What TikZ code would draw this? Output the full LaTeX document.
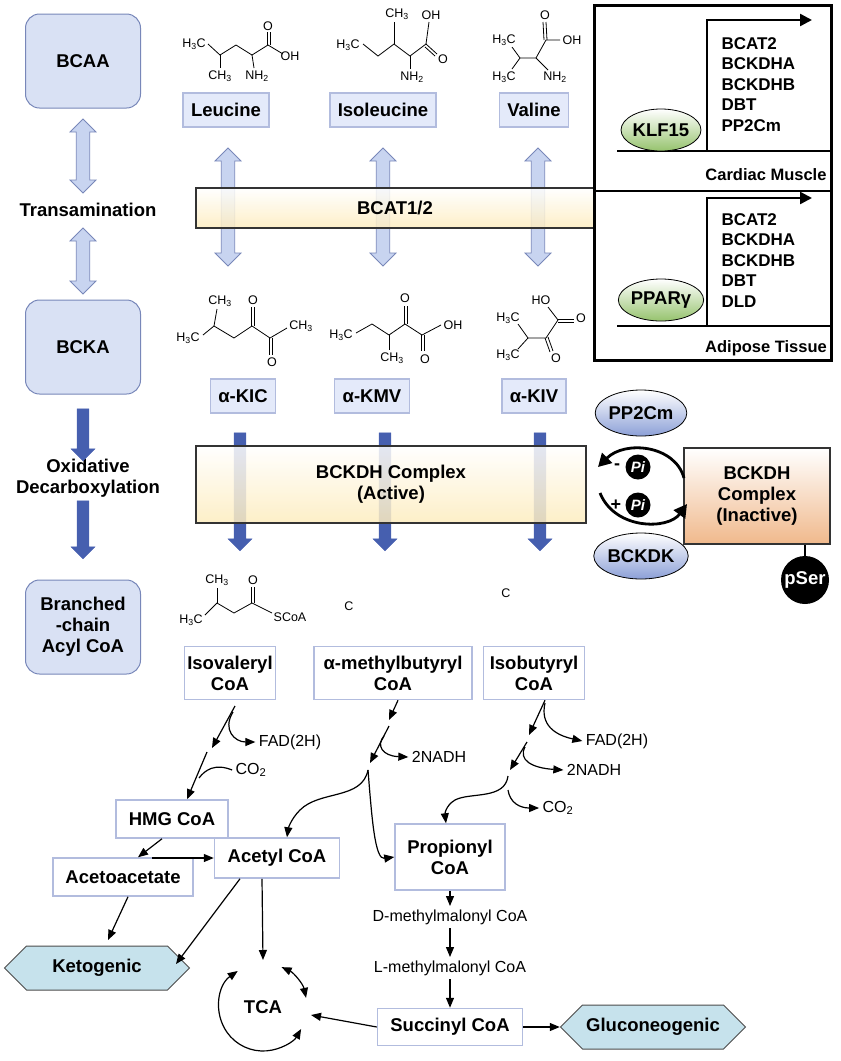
\documentclass[tikz,border=0pt]{standalone}
\usepackage{fontspec}
\setmainfont{Liberation Sans}
\usetikzlibrary{shapes.geometric,shapes.arrows,shapes.symbols,arrows.meta}
\definecolor{boxfill}{RGB}{228,234,250}
\definecolor{boxline}{RGB}{178,188,222}
\definecolor{lbfill}{RGB}{200,212,240}
\definecolor{lbline}{RGB}{120,135,185}
\definecolor{dblue}{RGB}{70,95,175}
\definecolor{cream}{RGB}{253,236,190}
\definecolor{peach}{RGB}{240,185,140}
\definecolor{hexfill}{RGB}{198,226,236}
\definecolor{ellblue}{RGB}{140,160,215}
\definecolor{ellgreen}{RGB}{150,195,110}
\begin{document}
\begin{tikzpicture}[x=1pt,y=-1pt,
  big/.style={font=\fontsize{18.5}{21}\selectfont\bfseries,align=center},
  side/.style={rounded corners=14pt,draw=lbline,fill=lbfill!70,line width=1pt,big,minimum width=115pt,minimum height=94pt},
  lab/.style={draw=boxline,fill=boxfill,line width=1.5pt,big,inner xsep=8pt,minimum height=34pt},
  plain/.style={draw=boxline,fill=white,line width=1.5pt,big,inner sep=3pt},
  chem/.style={font=\fontsize{12.5}{14}\selectfont,inner sep=0.5pt},
  bond/.style={line width=0.8pt},
  dbl/.style={double arrow,draw=lbline,fill=lbfill,line width=0.8pt,minimum height=#1,minimum width=26pt,double arrow head extend=6pt,shape border rotate=90,inner sep=6pt},
  dk/.style={single arrow,fill=dblue,draw=dblue,minimum height=#1,minimum width=24pt,single arrow head extend=6pt,shape border rotate=270,inner sep=5.5pt},
  bar/.style={draw=black!80,line width=2pt,top color=white,bottom color=cream,fill opacity=0.85,text opacity=1,big},
  pi/.style={circle,fill=black,text=white,font=\fontsize{15}{15}\selectfont\bfseries\itshape,inner sep=1pt,minimum size=25pt},
  ell/.style={ellipse,draw=black,line width=0.8pt,top color=white,bottom color=#1,big,inner sep=0pt,minimum width=62pt,minimum height=46pt},
  ar/.style={-{Triangle[length=10pt,width=8pt]},line width=1.2pt},
  sm/.style={font=\fontsize{16}{18}\selectfont},
  tis/.style={font=\fontsize{16.5}{18}\selectfont\bfseries},
  hexa/.style={signal,signal to=west and east,draw=black!70,fill=hexfill,line width=1pt,big,minimum height=44pt}
]
\useasboundingbox (0,0) rectangle (841,1061);
% left column
\node[side] (bcaa) at (83,61) {BCAA};
\node[side] (bcka) at (83,347) {BCKA};
\node[side] (bcac) at (83,627) {Branched\\-chain\\Acyl CoA};
\node[big] (trans) at (88,210) {Transamination};
\node[big] (oxd) at (88,478) {Oxidative\\Decarboxylation};
\node[dbl=74pt] (da1) at (83,156) {};
\node[dbl=66pt] (da2) at (83,261) {};
\node[dk=52pt] (ka1) at (83,432) {};
\node[dk=58pt] (ka2) at (83,527) {};
% amino acids
\node[lab] (leu) at (226,110) {Leucine};
\node[lab] (ile) at (383,110) {Isoleucine};
\node[lab] (val) at (534,110) {Valine};
\node[dbl=118pt] (v1) at (228,207) {};
\node[dbl=118pt] (v2) at (383,207) {};
\node[dbl=118pt] (v3) at (538,207) {};
\node[bar,minimum width=398pt,minimum height=40pt] (bcat) at (395,208) {BCAT1/2};
% leucine structure
\node[chem] (l1) at (194,44) {H\textsubscript{3}C};
\node[chem] (l2) at (220,76) {CH\textsubscript{3}};
\node[chem] (l3) at (257,76) {NH\textsubscript{2}};
\node[chem] (l4) at (268,26) {O};
\node[chem] (l5) at (290,56) {OH};
\draw[bond] (208,44)--(220,55)--(236,45)--(252,55)--(268,45)--(283,54);
\draw[bond] (220,55)--(220,68); \draw[bond] (252,55)--(254,68);
\draw[bond] (267,45)--(267,32); \draw[bond] (270,45)--(270,32);
% isoleucine
\node[chem] (i1) at (348,45) {H\textsubscript{3}C};
\node[chem] (i2) at (397,14) {CH\textsubscript{3}};
\node[chem] (i3) at (412,77) {NH\textsubscript{2}};
\node[chem] (i4) at (431,15) {OH};
\node[chem] (i5) at (443,59) {O};
\draw[bond] (363,44)--(378,56)--(394,44)--(410,56)--(426,44)--(437,54);
\draw[bond] (394,44)--(394,22); \draw[bond] (410,56)--(410,69);
\draw[bond] (426,44)--(429,22); \draw[bond] (425,47)--(435,56);
% valine
\node[chem] (va1) at (504,40) {H\textsubscript{3}C};
\node[chem] (va2) at (504,77) {H\textsubscript{3}C};
\node[chem] (va3) at (555,77) {NH\textsubscript{2}};
\node[chem] (va4) at (545,15) {O};
\node[chem] (va5) at (572,40) {OH};
\draw[bond] (512,47)--(520,58)--(512,69); \draw[bond] (520,58)--(536,58)--(546,40)--(560,40);
\draw[bond] (536,58)--(548,70);
\draw[bond] (544,40)--(543,22); \draw[bond] (547,40)--(546,22);
% keto acids
\node[lab] (kic) at (243,396) {α-KIC};
\node[lab] (kmv) at (372,396) {α-KMV};
\node[lab] (kiv) at (534,396) {α-KIV};
% KIC
\node[chem] (k1) at (188,338) {H\textsubscript{3}C};
\node[chem] (k2) at (220,301) {CH\textsubscript{3}};
\node[chem] (k3) at (253,300) {O};
\node[chem] (k4) at (272,362) {O};
\node[chem] (k5) at (301,326) {CH\textsubscript{3}};
\draw[bond] (203,335)--(214,326)--(234,338)--(252,326)--(270,338)--(287,328);
\draw[bond] (214,326)--(217,309);
\draw[bond] (251,326)--(251,307); \draw[bond] (254,326)--(254,307);
\draw[bond] (269,338)--(269,355); \draw[bond] (272,338)--(272,355);
% KMV
\node[chem] (m1) at (341,335) {H\textsubscript{3}C};
\node[chem] (m2) at (392,358) {CH\textsubscript{3}};
\node[chem] (m3) at (405,298) {O};
\node[chem] (m4) at (425,359) {O};
\node[chem] (m5) at (453,325) {OH};
\draw[bond] (356,333)--(372,324)--(389,335)--(405,324)--(422,335)--(441,325);
\draw[bond] (389,335)--(389,350);
\draw[bond] (404,324)--(404,306); \draw[bond] (407,324)--(407,306);
\draw[bond] (421,335)--(421,351); \draw[bond] (424,335)--(424,351);
% KIV
\node[chem] (n1) at (508,318) {H\textsubscript{3}C};
\node[chem] (n2) at (508,355) {H\textsubscript{3}C};
\node[chem] (n3) at (541,300) {HO};
\node[chem] (n4) at (581,318) {O};
\node[chem] (n5) at (556,358) {O};
\draw[bond] (518,324)--(528,338)--(518,349); \draw[bond] (528,338)--(546,338)--(558,320);
\draw[bond] (558,320)--(548,307);
\draw[bond] (558,319)--(574,319); \draw[bond] (558,322)--(574,322);
\draw[bond] (545,338)--(550,352); \draw[bond] (548,337)--(553,351);
% BCKDH active
\node[dk=118pt] (w1) at (240,489) {};
\node[dk=118pt] (w2) at (385,489) {};
\node[dk=118pt] (w3) at (540,489) {};
\node[bar,minimum width=390pt,minimum height=77pt] (bckdh) at (391,484) {BCKDH Complex\\(Active)};
\node[ell=ellblue] (pp) at (641,413) {PP2Cm};
\node[ell=ellblue] (bk) at (641,556) {BCKDK};
\node[draw=black!80,line width=2pt,top color=white,bottom color=peach,big,minimum width=146pt,minimum height=96pt] (inact) at (757,496) {BCKDH\\Complex\\(Inactive)};
\node[circle,fill=black,text=white,big,minimum size=48pt,inner sep=0pt] (pser) at (805,580) {pSer};
\draw[line width=2.5pt] (inact.south -| pser) -- (pser);
\node[pi] (pim) at (638,467) {Pi};
\node[pi] (pip) at (638,505) {Pi};
\node[font=\fontsize{18}{18}\selectfont\bfseries] (mn) at (617,467) {-};
\node[font=\fontsize{18}{18}\selectfont\bfseries] (pl) at (616,505) {+};
\draw[line width=2.8pt,-{Triangle[length=13pt,width=14pt]}] (684,478) .. controls (675,445) and (625,440) .. (598,467);
\draw[line width=2.8pt,-{Triangle[length=13pt,width=14pt]}] (600,493) .. controls (615,530) and (668,530) .. (687,504);
% right box
\node[draw,line width=2.5pt,minimum width=237pt,minimum height=355pt] (rb) at (713,183) {};
\coordinate (t1) at (707,151); \coordinate (t2) at (707,20); \coordinate (t3) at (812,20);
\draw[line width=2.5pt] (rb.west |- t1) ++(24,0) -- (rb.east |- t1);
\draw[line width=2.5pt,-{Triangle[length=12pt,width=12pt]}] (t1) -- (t2) -- (t3);
\node[ell=ellgreen,minimum width=56pt,minimum height=42pt] (klf) at (661,130) {KLF15};
\node[big,align=left,anchor=north west,font=\fontsize{17}{20.5}\selectfont\bfseries] (g1) at (718,34) {BCAT2\\BCKDHA\\BCKDHB\\DBT\\PP2Cm};
\node[tis] (cm) at (766,175) {Cardiac Muscle};
\draw[line width=2.5pt] (rb.west |- 0,191) -- (rb.east |- 0,191);
\coordinate (s1) at (707,326); \coordinate (s2) at (707,198); \coordinate (s3) at (812,198);
\draw[line width=2.5pt] (rb.west |- s1) ++(24,0) -- (rb.east |- s1);
\draw[line width=2.5pt,-{Triangle[length=12pt,width=12pt]}] (s1) -- (s2) -- (s3);
\node[ell=ellgreen,minimum width=56pt,minimum height=42pt] (ppar) at (661,300) {PPARγ};
\node[big,align=left,anchor=north west,font=\fontsize{17}{20.5}\selectfont\bfseries] (g2) at (718,210) {BCAT2\\BCKDHA\\BCKDHB\\DBT\\DLD};
\node[tis] (at) at (766,348) {Adipose Tissue};
% acyl CoA structure
\node[chem] (c1) at (191,620) {H\textsubscript{3}C};
\node[chem] (c2) at (217,580) {CH\textsubscript{3}};
\node[chem] (c3) at (253,580) {O};
\node[chem] (c4) at (290,617) {SCoA};
\node[chem] (c5) at (349,606) {C};
\node[chem] (c6) at (506,593) {C};
\draw[bond] (205,615)--(217,603)--(234,613)--(252,603)--(272,613);
\draw[bond] (217,603)--(217,588);
\draw[bond] (251,603)--(251,587); \draw[bond] (254,603)--(254,587);
% acyl CoA boxes
\node[plain,minimum width=84pt,minimum height=53pt] (iso) at (230,673) {Isovaleryl\\CoA};
\node[plain,minimum width=158pt,minimum height=53pt] (amb) at (393,673) {α-methylbutyryl\\CoA};
\node[plain,minimum width=101pt,minimum height=53pt] (ib) at (534,673) {Isobutyryl\\CoA};
\node[plain,minimum width=112pt,minimum height=38pt] (hmg) at (172,819) {HMG CoA};
\node[plain,minimum width=125pt,minimum height=40pt] (acet) at (277,858) {Acetyl CoA};
\node[plain,minimum width=140pt,minimum height=38pt] (aca) at (123,877) {Acetoacetate};
\node[plain,minimum width=110pt,minimum height=66pt] (prop) at (450,857) {Propionyl\\CoA};
\node[sm] (dmm) at (450,917) {D-methylmalonyl CoA};
\node[sm] (lmm) at (450,968) {L-methylmalonyl CoA};
\node[plain,minimum width=145pt,minimum height=37pt] (suc) at (450,1027) {Succinyl CoA};
\node[hexa,minimum width=185pt] (glu) at (653,1027) {Gluconeogenic};
\node[hexa,minimum width=185pt] (keto) at (97,968) {Ketogenic};
\node[big] (tca) at (263,1007) {TCA};
\node[sm] (fad1) at (290,742) {FAD(2H)};
\node[sm] (co1) at (251,770) {CO\textsubscript{2}};
\node[sm] (nad1) at (439,757) {2NADH};
\node[sm] (fad2) at (617,741) {FAD(2H)};
\node[sm] (nad2) at (594,770) {2NADH};
\node[sm] (co2) at (558,808) {CO\textsubscript{2}};
% isovaleryl path
\coordinate (a1) at (235,706); \coordinate (a2) at (212,748); \coordinate (a3) at (207,752);
\draw[ar] (a1) -- (a2);
\draw[ar] (233,712) .. controls (222,730) and (235,742) .. (fad1.west);
\draw[ar] (a3) -- (hmg.north -| 187,0);
\draw[line width=1.2pt] (co1.west) .. controls (215,763) and (205,770) .. (199,778);
% HMG
\draw[ar] (hmg.south -| 162,0) -- (aca.north -| 138,0);
\draw[ar] (152,858) -- (acet.west);
% alpha-methylbutyryl
\draw[ar] (amb.south -| 398,0) -- (389,720);
\draw[ar] (389,726) -- (370,763);
\draw[ar] (384,736) .. controls (376,745) and (382,756) .. (nad1.west);
\draw[ar] (368,770) .. controls (362,800) and (320,790) .. (300,810) .. controls (290,820) and (288,830) .. (acet.north -| 287,0);
\draw[ar] (368,770) .. controls (372,820) and (375,860) .. (prop.west);
% isobutyryl
\draw[ar] (ib.south -| 545,0) -- (529,735);
\draw[ar] (545,703) .. controls (540,725) and (555,735) .. (fad2.west);
\draw[ar] (527,742) -- (510,770);
\draw[ar] (525,747) .. controls (518,760) and (532,768) .. (nad2.west);
\draw[ar] (508,776) .. controls (505,800) and (470,792) .. (455,800) .. controls (445,806) and (445,815) .. (prop.north -| 446,0);
\draw[ar] (508,790) .. controls (510,803) and (520,808) .. (co2.west);
% propionyl to succinyl
\draw[ar] (prop.south) -- (dmm.north);
\draw[ar] (dmm.south) -- (lmm.north);
\draw[ar] (lmm.south) -- (suc.north);
\draw[ar] (suc.east) -- (glu.west);
\draw[ar] (suc.west) -- (311,1015);
% acetyl and acetoacetate
\draw[ar] (aca.south -| 128,0) -- (108,940);
\draw[ar] (acet.south -| 240,0) -- (176,964);
\draw[ar] (acet.south -| 262,0) -- (263,960);
% TCA cycle
\draw[line width=1.2pt,{Triangle[length=10pt,width=8pt]}-{Triangle[length=10pt,width=8pt]}] (263,1007) ++(-125:44) arc[start angle=-125,end angle=-330,radius=44];
\draw[line width=1.2pt,{Triangle[length=10pt,width=8pt]}-{Triangle[length=10pt,width=8pt]}] (263,1007) ++(-65:44) arc[start angle=-65,end angle=-12,radius=44];
\end{tikzpicture}
\end{document}
